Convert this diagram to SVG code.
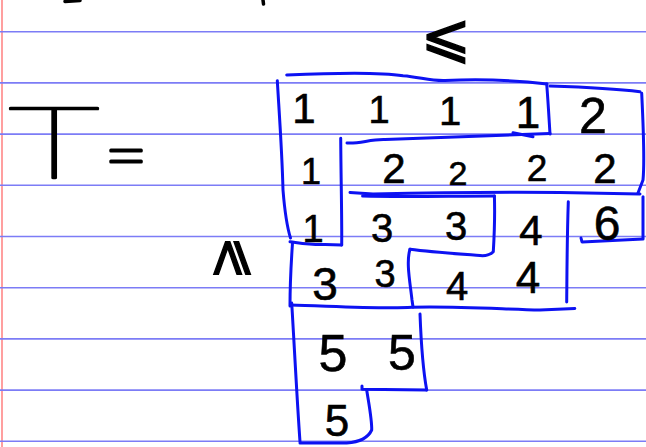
<svg xmlns="http://www.w3.org/2000/svg" width="646" height="447" viewBox="0 0 646 447">
<style>
.rule{stroke:#7c7cf6;stroke-width:1.6;fill:none}
.margin{stroke:#ff9f9f;stroke-width:2;fill:none}
.box{stroke:#0d12f2;stroke-width:3;fill:none;stroke-linecap:round;stroke-linejoin:round}
.ink{stroke:#000;stroke-width:3.5;fill:none;stroke-linecap:round}
.d{font-family:"Liberation Sans",Arial,sans-serif;fill:#000;text-anchor:middle;stroke:#000;stroke-width:0.6}
.sym{font-family:"DejaVu Sans",sans-serif;fill:#000;text-anchor:middle;stroke:#000;stroke-width:1.4}
.hand{font-family:Lato,"Liberation Sans",sans-serif;font-weight:100;fill:#000;text-anchor:middle;stroke:#000;stroke-linejoin:round}
</style>
<rect width="646" height="447" fill="#fff"/>
<g id="paper">
<line class="margin" x1="2" y1="0" x2="2" y2="447"/>
<line class="rule" x1="0" y1="31.7" x2="646" y2="31.7"/>
<line class="rule" x1="0" y1="82.9" x2="646" y2="82.9"/>
<line class="rule" x1="0" y1="134.1" x2="646" y2="134.1"/>
<line class="rule" x1="0" y1="185.3" x2="646" y2="185.3"/>
<line class="rule" x1="0" y1="236.5" x2="646" y2="236.5"/>
<line class="rule" x1="0" y1="287.7" x2="646" y2="287.7"/>
<line class="rule" x1="0" y1="338.9" x2="646" y2="338.9"/>
<line class="rule" x1="0" y1="390.1" x2="646" y2="390.1"/>
<line class="rule" x1="0" y1="441.3" x2="646" y2="441.3"/>
</g>
<g id="cutoff-marks">
<path class="ink" d="M65,1.5 L80,0.5"/>
<path class="ink" d="M263,0 L263.5,4"/>
</g>
<g id="label-T">
<text class="hand" x="0" y="0" font-size="100" stroke-width="2.4" transform="translate(54 178) scale(1.6 1)">T</text>
<text class="hand" x="126" y="182" font-size="76" stroke-width="3.2">=</text>
</g>
<g id="relations">
<text class="sym" x="446" y="56" font-size="60">⩽</text>
<text class="sym" x="0" y="0" font-size="52" transform="translate(226 258) rotate(-90) translate(0 18)">⩾</text>
</g>
<g id="boxes">
<path class="box" d="M286.7,75 C330,73 380,72 403,75.7 C420,77 430,81 445,80.5 C480,79 510,79.5 547,84"/>
<path class="box" d="M546.7,84 C548,100 549,118 550,134"/>
<path class="box" d="M347,143 C360,144 370,139 385,139.5 C430,138 500,135 550,133.5"/>
<path class="box" d="M513,132.7 L533,136.7"/>
<path class="box" d="M550,86 C580,87 610,88 640,91.7"/>
<path class="box" d="M641.7,93.3 C643,120 645,160 643,180 L638,193"/>
<path class="box" d="M277.3,80.7 C279,110 282,150 283,190 C285,215 288,230 290.5,238"/>
<path class="box" d="M340.7,138.3 C341,180 342,220 341.7,245"/>
<path class="box" d="M290,241.7 C300,243 310,245 325,244.5 L341.7,245"/>
<path class="box" d="M350,192.5 L373,194 C420,193 500,192 560,192.5 L640,194"/>
<path class="box" d="M362.6,196 C400,197 450,196 494.4,196"/>
<path class="box" d="M494.4,196 C495,215 494,240 493.3,251.7 C490,255 485,256 480,255.5 C460,254 430,252 410,249.3"/>
<path class="box" d="M410,249.3 C406,262 410,282 412,300 L413,307"/>
<path class="box" d="M568.3,201.7 C567,240 567,270 566.7,302"/>
<path class="box" d="M643,196.7 L643,238"/>
<path class="box" d="M581,238 L582,242 C600,241 620,240 643,239"/>
<path class="box" d="M292.5,243 C291,265 290,290 290,306"/>
<path class="box" d="M290.5,305 C330,306 380,309 412,307.3 C450,306 500,309 540,310 L574.8,308.5"/>
<path class="box" d="M420,314 C421,340 423,370 426.7,390"/>
<path class="box" d="M362,386 L362,389.3 L426.7,390"/>
<path class="box" d="M366.7,390 C369,405 372,420 371.7,430 C368,438 360,442 346.7,443 L300,443"/>
<path class="box" d="M291.7,303 C294,340 297,400 300,441.7"/>
</g>
<g id="entries">
<text class="d" x="304" y="123" font-size="42">1</text>
<text class="d" x="379" y="123" font-size="38">1</text>
<text class="d" x="450" y="125" font-size="40">1</text>
<text class="d" x="528" y="128" font-size="44">1</text>
<text class="d" x="593" y="133" font-size="50">2</text>
<text class="d" x="311" y="184" font-size="36">1</text>
<text class="d" x="394" y="183" font-size="42">2</text>
<text class="d" x="458" y="185" font-size="34">2</text>
<text class="d" x="537" y="181" font-size="37">2</text>
<text class="d" x="605" y="183" font-size="42">2</text>
<text class="d" x="313" y="242" font-size="38">1</text>
<text class="d" x="382" y="242" font-size="40">3</text>
<text class="d" x="456" y="240" font-size="40">3</text>
<text class="d" x="531" y="245" font-size="42">4</text>
<text class="d" x="607" y="240" font-size="48">6</text>
<text class="d" x="325" y="300" font-size="46">3</text>
<text class="d" x="385" y="287" font-size="38">3</text>
<text class="d" x="457" y="300" font-size="40">4</text>
<text class="d" x="528" y="293" font-size="44">4</text>
<text class="d" x="333" y="371" font-size="52">5</text>
<text class="d" x="402" y="370" font-size="50">5</text>
<text class="d" x="337" y="436" font-size="44">5</text>
</g>
</svg>
